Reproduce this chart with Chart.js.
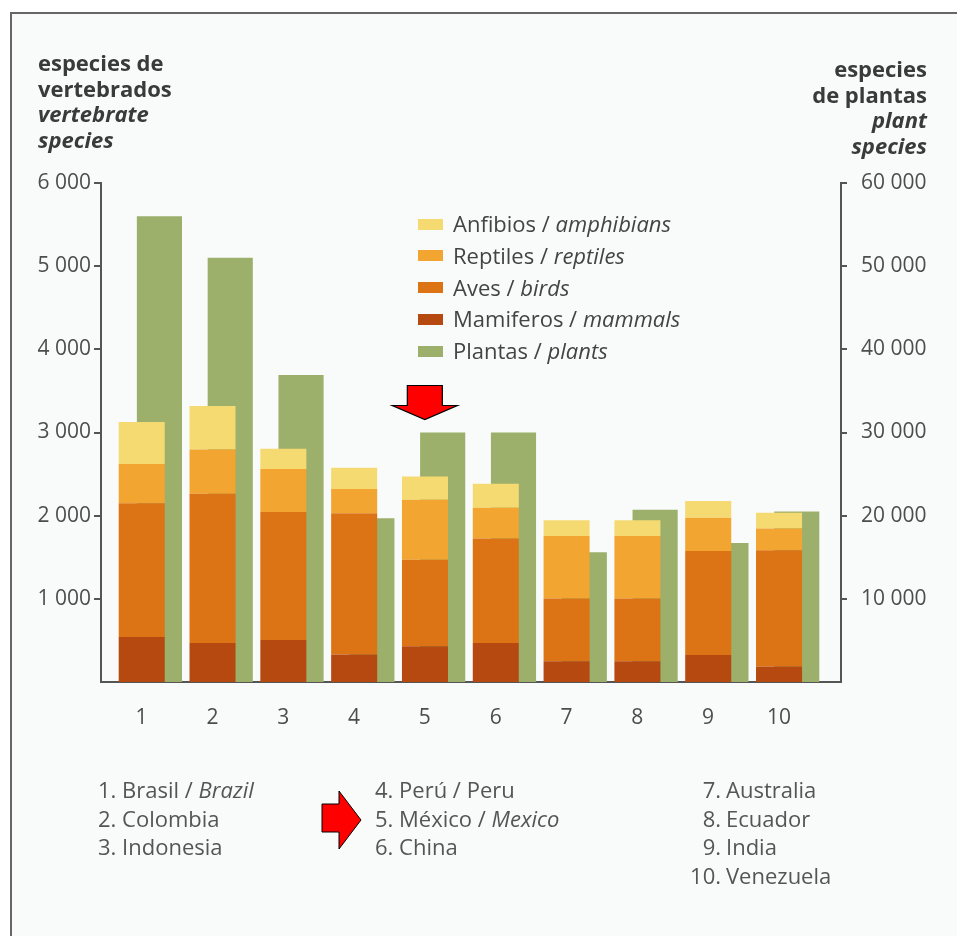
<!DOCTYPE html>
<html>
<head>
<meta charset="utf-8">
<script src="https://cdn.jsdelivr.net/npm/chart.js@4/dist/chart.umd.min.js"></script>
<style>
  html, body { margin:0; padding:0; background:#ffffff; width:957px; height:936px; overflow:hidden; font-family:"Open Sans", sans-serif; }
  #frame { position:absolute; left:10px; top:12px; width:947px; height:924px; border-left:2px solid #666; border-top:2px solid #666; background:#f9fbfb; box-sizing:border-box; }
  #wrap { position:absolute; left:0; top:0; width:957px; height:936px; }
  .ttl { position:absolute; font-weight:bold; font-size:22px; line-height:25.5px; color:#3a3a3a; white-space:nowrap; }
  #ttlL { left:38px; top:50px; text-align:left; }
  #ttlR { right:30px; top:56px; text-align:right; }
  #legend { position:absolute; left:418px; top:208px; font-size:22px; color:#444; }
  #legend .row { height:31.8px; line-height:31.8px; white-space:nowrap; position:relative; }
  #legend .sw { display:inline-block; width:25px; height:11px; vertical-align:middle; margin-right:10px; position:relative; top:-2px; }
  .list { position:absolute; top:775px; font-size:22px; line-height:28.7px; color:#555; white-space:nowrap; }
  .list .num { display:inline-block; width:31px; text-align:right; margin-right:5px; }
  #arrowR { position:absolute; left:0; top:0; }
</style>
</head>
<body>
<div id="frame"></div>
<div id="wrap"><canvas id="c" width="957" height="936"></canvas></div>
<div class="ttl" id="ttlL">especies de<br>vertebrados<br><i>vertebrate</i><br><i>species</i></div>
<div class="ttl" id="ttlR">especies<br>de plantas<br><i>plant</i><br><i>species</i></div>
<div id="legend"></div>
<div class="list" id="col1" style="left:98px"></div>
<div class="list" id="col2" style="left:375px"></div>
<div class="list" id="col3" style="left:690px"></div>
<svg id="arrowR" width="957" height="936" style="pointer-events:none">
  <polygon points="322,804 339,804 339,791 361,820 339,849 339,832 322,832" fill="#ff0000" stroke="#000" stroke-width="1"/>
</svg>
<script>
// ---- data ----
const categories = ['1','2','3','4','5','6','7','8','9','10'];
const countriesES = ['Brasil','Colombia','Indonesia','Perú','México','China','Australia','Ecuador','India','Venezuela'];
const countriesEN = ['Brazil','','','Peru','Mexico','','','','',''];
const countriesENItalic = [true,false,false,false,true,false,false,false,false,false];

const mammals    = [540, 470, 505, 330, 430, 470, 250, 250, 325, 185];
const birds      = [1610, 1795, 1540, 1700, 1040, 1255, 755, 755, 1250, 1400];
const reptiles   = [470, 530, 515, 290, 720, 370, 750, 750, 400, 260];
const amphibians = [505, 525, 245, 255, 280, 290, 190, 190, 200, 190];
const plants     = [56000, 51000, 36900, 19700, 30000, 30000, 15600, 20700, 16700, 20500];

const vertTicks  = [1000, 2000, 3000, 4000, 5000, 6000];
const plantTicks = [10000, 20000, 30000, 40000, 50000, 60000];

const seriesES = ['Mamiferos', 'Aves', 'Reptiles', 'Anfibios', 'Plantas'];
const seriesEN = ['mammals', 'birds', 'reptiles', 'amphibians', 'plants'];
const legendOrder = [3, 2, 1, 0, 4];
const highlightIndex = 4;

// ---- styles ----
const colors = ['#b5490f', '#dc7416', '#f2a530', '#f5da72', '#9caf6b'];
const fmt = v => String(v).replace(/\B(?=(\d{3})+(?!\d))/g, ' ');
const tickFont = { family: '"Open Sans", sans-serif', size: 21 };
const tickColor = '#4d4d4d';

const vertSeries = [mammals, birds, reptiles, amphibians];
const datasets = vertSeries.map((d, i) => ({
  label: seriesES[i] + ' / ' + seriesEN[i],
  data: d,
  backgroundColor: colors[i],
  stack: 'v',
  yAxisID: 'y',
  borderWidth: 0,
  barPercentage: 2.6,
  categoryPercentage: 0.5
}));
datasets.push({
  label: seriesES[4] + ' / ' + seriesEN[4],
  data: plants,
  backgroundColor: colors[4],
  stack: 'p',
  yAxisID: 'y2',
  borderWidth: 0,
  barPercentage: 2.55,
  categoryPercentage: 0.5
});

const arrowPlugin = {
  id: 'downArrow',
  afterDatasetsDraw(chart) {
    const ctx = chart.ctx;
    const xs = chart.scales.x, y2 = chart.scales.y2;
    const cx = xs.getPixelForValue(Number(categories[highlightIndex])) - 9;
    const tip = y2.getPixelForValue(plants[highlightIndex]) - 13;
    ctx.save();
    ctx.beginPath();
    ctx.moveTo(cx - 17.5, tip - 34);
    ctx.lineTo(cx + 17.5, tip - 34);
    ctx.lineTo(cx + 17.5, tip - 14);
    ctx.lineTo(cx + 32.5, tip - 14);
    ctx.lineTo(cx, tip);
    ctx.lineTo(cx - 32.5, tip - 14);
    ctx.lineTo(cx - 17.5, tip - 14);
    ctx.closePath();
    ctx.fillStyle = '#ff0000';
    ctx.fill();
    ctx.lineWidth = 1.2;
    ctx.strokeStyle = '#000';
    ctx.stroke();
    ctx.restore();
  }
};

const chart = new Chart(document.getElementById('c'), {
  type: 'bar',
  data: { labels: categories, datasets },
  options: {
    responsive: false,
    animation: false,
    devicePixelRatio: 1,
    layout: { padding: { top: 183, bottom: 194, left: 0, right: 0 } },
    plugins: { legend: { display: false }, tooltip: { enabled: false }, title: { display: false } },
    scales: {
      x: {
        type: 'linear',
        min: 0.30,
        max: 10.75,
        offset: false,
        grid: { display: false, offset: false },
        border: { display: true, color: '#555', width: 2 },
        ticks: {
          stepSize: 1,
          includeBounds: false,
          autoSkip: false,
          maxRotation: 0,
          labelOffset: -9,
          padding: 15,
          font: tickFont,
          color: tickColor,
          callback: v => Number.isInteger(v) && v >= 1 && v <= categories.length ? categories[v - 1] : null
        },
        afterFit: s => { s.height = 60; }
      },
      y: {
        position: 'left',
        stacked: true,
        min: 0,
        max: vertTicks[vertTicks.length - 1],
        grid: { drawOnChartArea: false, drawTicks: true, tickLength: 7, color: '#555', lineWidth: 2 },
        border: { display: true, color: '#555', width: 2 },
        ticks: {
          stepSize: 1000,
          padding: 3,
          font: tickFont,
          color: tickColor,
          callback: v => vertTicks.includes(v) ? fmt(v) : null
        },
        afterFit: s => { s.width = 101; }
      },
      y2: {
        position: 'right',
        stacked: true,
        min: 0,
        max: plantTicks[plantTicks.length - 1],
        grid: { drawOnChartArea: false, drawTicks: true, tickLength: 6, color: '#555', lineWidth: 2 },
        border: { display: true, color: '#555', width: 2 },
        ticks: {
          stepSize: 10000,
          padding: 14,
          font: tickFont,
          color: tickColor,
          callback: v => plantTicks.includes(v) ? fmt(v) : null
        },
        afterFit: s => { s.width = 116; }
      }
    }
  },
  plugins: [arrowPlugin]
});

// ---- HTML legend built from the chart datasets ----
const legendEl = document.getElementById('legend');
legendOrder.forEach(i => {
  const ds = chart.data.datasets[i];
  const row = document.createElement('div');
  row.className = 'row';
  const sw = document.createElement('span');
  sw.className = 'sw';
  sw.style.background = ds.backgroundColor;
  row.appendChild(sw);
  row.appendChild(document.createTextNode(seriesES[i] + ' / '));
  const it = document.createElement('i');
  it.textContent = seriesEN[i];
  row.appendChild(it);
  legendEl.appendChild(row);
});

// ---- country list ----
const cols = [document.getElementById('col1'), document.getElementById('col2'), document.getElementById('col3')];
countriesES.forEach((name, i) => {
  const col = cols[Math.min(2, Math.floor(i / 3))];
  const line = document.createElement('div');
  const num = document.createElement('span');
  num.textContent = categories[i] + '.';
  if (col.id === 'col3') num.className = 'num';
  line.appendChild(num);
  line.appendChild(document.createTextNode((col.id === 'col3' ? '' : ' ') + name));
  if (countriesEN[i]) {
    line.appendChild(document.createTextNode(' / '));
    const en = document.createElement(countriesENItalic[i] ? 'i' : 'span');
    en.textContent = countriesEN[i];
    line.appendChild(en);
  }
  col.appendChild(line);
});
</script>
</body>
</html>
